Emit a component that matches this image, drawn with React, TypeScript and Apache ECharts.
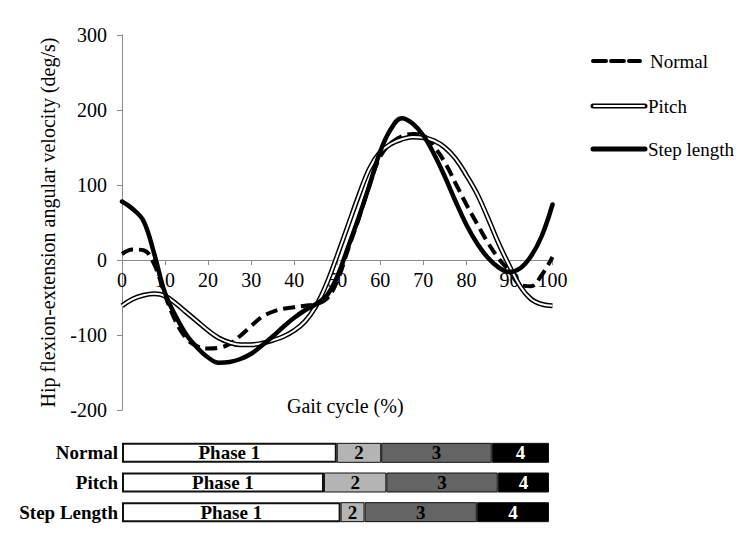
import React, { useEffect, useRef } from "react";
import * as echarts from "echarts";

// Gait cycle sample points (%)
const gaitPct = [
  0, 2.5, 5, 7.5, 10, 12.5, 15, 17.5, 20, 22.5, 25, 27.5, 30, 32.5, 35, 37.5, 40,
  42.5, 45, 47.5, 50, 52.5, 55, 57.5, 60, 62.5, 65, 67.5, 70, 72.5, 75, 77.5, 80,
  82.5, 85, 87.5, 90, 92.5, 95, 97.5, 100,
];

// Hip flexion-extension angular velocity (deg/s)
const normalVel = [
  8, 14, 13, -6, -47, -82, -105, -115, -118, -117, -112, -101, -88, -76, -69, -65, -63,
  -61, -59, -52, -28, 14, 55, 100, 138, 156, 165, 168, 166, 151, 130, 102, 74,
  48, 23, 2, -15, -33, -35, -20, 4,
];
const pitchVel = [
  -61, -52, -47, -45, -48, -58, -70, -82, -94, -104, -110, -113, -113, -111, -107, -102, -94,
  -82, -62, -32, 6, 46, 86, 122, 144, 155, 161, 164, 163, 159, 150, 135, 113,
  88, 56, 22, -8, -35, -52, -59, -61,
];
const stepVel = [
  78, 68, 52, 8, -44, -75, -100, -117, -130, -137, -136, -132, -125, -114, -102, -89, -77,
  -67, -59, -48, -22, 17, 57, 100, 145, 175, 189, 182, 166, 141, 111, 78, 47,
  22, 3, -10, -16, -11, 5, 32, 74,
];

// Gait phase durations (% of cycle) per condition
const conditions = ["Normal", "Pitch", "Step Length"];
const phase1 = [50.3, 47.3, 51.2];
const phase2 = [10.4, 14.6, 5.6];
const phase3 = [25.9, 26.1, 26.3];
const phase4 = [13.4, 12.0, 16.9];
const phaseLabels = ["Phase 1", "2", "3", "4"];

const yTicks = { min: -200, max: 300, interval: 100 };
const xTicks = { min: 0, max: 100, interval: 10 };

const FONT = "Liberation Serif";

function pairs(ys: number[]) {
  return gaitPct.map((x, i) => [x, ys[i]]);
}

export default function App() {
  const ref = useRef<HTMLDivElement>(null);

  useEffect(() => {
    if (!ref.current) return;
    const chart = echarts.init(ref.current, null, { renderer: "svg" });

    const axisGrey = "#8a8a8a";
    const phaseSeries = [phase1, phase2, phase3, phase4].map((vals, k) => ({
      type: "bar",
      xAxisIndex: 1,
      yAxisIndex: 1,
      stack: "phase",
      barWidth: 20,
      data: vals,
      itemStyle: {
        color: ["#ffffff", "#b4b4b4", "#646464", "#000000"][k],
        borderColor: "#111",
        borderWidth: k === 0 ? 2 : 1,
      },
      label: {
        show: true,
        position: "inside",
        formatter: phaseLabels[k],
        fontFamily: FONT,
        fontWeight: "bold",
        fontSize: 19,
        color: k === 3 ? "#fff" : "#000",
      },
      silent: true,
    }));

    chart.setOption({
      animation: false,
      textStyle: { fontFamily: FONT },
      grid: [
        { left: 122, right: 197.5, top: 35, bottom: 142 },
        { left: 122, right: 201, top: 438, height: 89 },
      ],
      xAxis: [
        {
          type: "value",
          gridIndex: 0,
          ...xTicks,
          position: "bottom",
          offset: -150,
          axisLine: { onZero: false, lineStyle: { color: axisGrey, width: 1 } },
          axisTick: { show: true, length: 5, lineStyle: { color: axisGrey } },
          axisLabel: { fontSize: 20, color: "#000", margin: 10, fontFamily: FONT },
          splitLine: { show: false },
        },
        {
          type: "value",
          gridIndex: 1,
          min: 0,
          max: 100,
          show: false,
        },
      ],
      yAxis: [
        {
          type: "value",
          gridIndex: 0,
          ...yTicks,
          name: "Hip flexion-extension angular velocity (deg/s)",
          nameLocation: "middle",
          nameGap: 64,
          nameTextStyle: { fontSize: 20, color: "#000", fontFamily: FONT },
          axisLine: { show: true, lineStyle: { color: axisGrey, width: 1 } },
          axisTick: { show: true, length: 5, lineStyle: { color: axisGrey } },
          axisLabel: { fontSize: 20, color: "#000", margin: 15, fontFamily: FONT },
          splitLine: { show: false },
        },
        {
          type: "category",
          gridIndex: 1,
          inverse: true,
          data: conditions,
          axisLine: { show: false },
          axisTick: { show: false },
          axisLabel: {
            fontSize: 19,
            fontWeight: "bold",
            color: "#000",
            margin: 4,
            fontFamily: FONT,
          },
        },
      ],
      series: [
        {
          name: "Normal",
          type: "line",
          data: pairs(normalVel),
          smooth: 0.4,
          showSymbol: false,
          lineStyle: { color: "#000", width: 4, type: [12, 6] },
          z: 3,
        },
        {
          name: "Pitch",
          type: "line",
          data: pairs(pitchVel),
          smooth: 0.4,
          showSymbol: false,
          lineStyle: { color: "#000", width: 5 },
          z: 3,
        },
        {
          name: "Pitch core",
          type: "line",
          data: pairs(pitchVel),
          smooth: 0.4,
          showSymbol: false,
          lineStyle: { color: "#fff", width: 2 },
          z: 4,
        },
        {
          name: "Step length",
          type: "line",
          data: pairs(stepVel),
          smooth: 0.4,
          showSymbol: false,
          lineStyle: { color: "#000", width: 4.5, cap: "round" },
          z: 5,
        },
        ...phaseSeries,
      ],
      graphic: [
        {
          type: "text",
          left: 343 - 56,
          top: 396,
          style: { text: "Gait cycle (%)", fontSize: 20, fontFamily: FONT, fill: "#000" },
        },
        // legend
        {
          type: "line",
          shape: { x1: 593, y1: 61, x2: 640, y2: 61 },
          style: { stroke: "#000", lineWidth: 4, lineDash: [13, 5], lineCap: "round" },
        },
        {
          type: "text",
          x: 650,
          y: 61,
          style: {
            text: "Normal",
            fontSize: 19,
            fontFamily: FONT,
            fill: "#000",
            verticalAlign: "middle",
          },
        },
        {
          type: "line",
          shape: { x1: 593, y1: 106, x2: 645, y2: 106 },
          style: { stroke: "#000", lineWidth: 5, lineCap: "round" },
        },
        {
          type: "line",
          shape: { x1: 594, y1: 106, x2: 644, y2: 106 },
          style: { stroke: "#fff", lineWidth: 2, lineCap: "round" },
        },
        {
          type: "text",
          x: 648,
          y: 106,
          style: {
            text: "Pitch",
            fontSize: 19,
            fontFamily: FONT,
            fill: "#000",
            verticalAlign: "middle",
          },
        },
        {
          type: "line",
          shape: { x1: 593, y1: 149, x2: 645, y2: 149 },
          style: { stroke: "#000", lineWidth: 5, lineCap: "round" },
        },
        {
          type: "text",
          x: 648,
          y: 149,
          style: {
            text: "Step length",
            fontSize: 19,
            fontFamily: FONT,
            fill: "#000",
            verticalAlign: "middle",
          },
        },
      ],
    });

    return () => chart.dispose();
  }, []);

  return (
    <div
      ref={ref}
      style={{ position: "fixed", left: 0, top: 0, width: 750, height: 552, background: "#fff" }}
    />
  );
}
